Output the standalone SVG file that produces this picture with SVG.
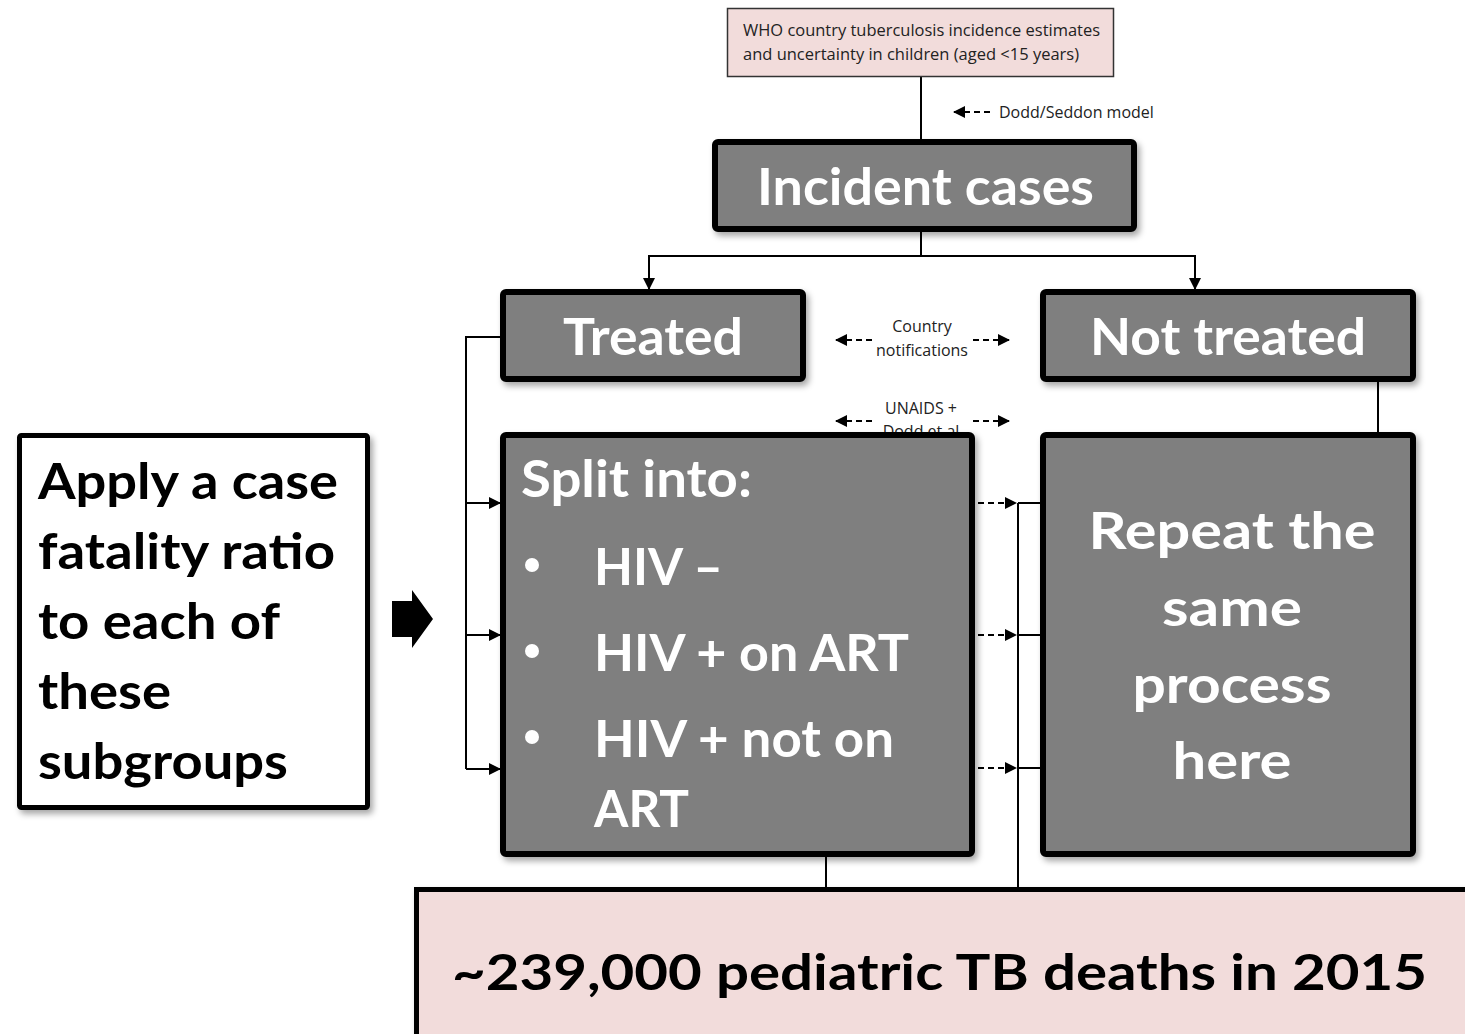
<svg xmlns="http://www.w3.org/2000/svg" width="1465" height="1034" viewBox="0 0 1465 1034">
<style>
.gray{fill:#7f7f7f;stroke:#000;stroke-width:6}
.big{font-family:Lato,"Open Sans",sans-serif;font-weight:bold;fill:#fff;font-size:52px}
.blk{font-family:Lato,"Open Sans",sans-serif;font-weight:bold;fill:#000;font-size:50px}
.sm{font-family:"Open Sans","Noto Sans",sans-serif;fill:#222;font-size:16px}
.ln{stroke:#000;stroke-width:2;fill:none}
.dash{stroke:#000;stroke-width:2;fill:none;stroke-dasharray:6 4}
</style>
<defs>
<filter id="sh" x="-10%" y="-10%" width="130%" height="130%">
<feDropShadow dx="3" dy="4" stdDeviation="3" flood-color="#000" flood-opacity="0.35"/>
</filter>
<marker id="ah" markerWidth="12" markerHeight="12" refX="12" refY="6" orient="auto" markerUnits="userSpaceOnUse">
<path d="M0,0 L12,6 L0,12 z" fill="#000"/>
</marker>
</defs>
<rect width="1465" height="1034" fill="#fff"/>

<g id="connectors">
<line class="ln" x1="921" y1="77" x2="921" y2="142"/>
<line class="ln" x1="921" y1="232" x2="921" y2="256"/>
<polyline class="ln" points="649,290 649,256 1195,256 1195,290" marker-end="url(#ah)"/>
<line class="ln" x1="649" y1="256" x2="649" y2="290" marker-end="url(#ah)"/>
<line class="ln" x1="1378" y1="382" x2="1378" y2="434"/>
<polyline class="ln" points="502,337 466,337 466,769"/>
<line class="ln" x1="466" y1="503" x2="501" y2="503" marker-end="url(#ah)"/>
<line class="ln" x1="466" y1="635" x2="501" y2="635" marker-end="url(#ah)"/>
<line class="ln" x1="466" y1="769" x2="501" y2="769" marker-end="url(#ah)"/>
<line class="ln" x1="1018" y1="503" x2="1018" y2="889"/>
<line class="ln" x1="1018" y1="503" x2="1042" y2="503"/>
<line class="ln" x1="1018" y1="635" x2="1042" y2="635"/>
<line class="ln" x1="1018" y1="768" x2="1042" y2="768"/>
<line class="dash" x1="978" y1="503" x2="1017" y2="503" marker-end="url(#ah)"/>
<line class="dash" x1="978" y1="635" x2="1017" y2="635" marker-end="url(#ah)"/>
<line class="dash" x1="978" y1="768" x2="1017" y2="768" marker-end="url(#ah)"/>
<line class="ln" x1="826" y1="857" x2="826" y2="889"/>
<line class="dash" x1="990" y1="112" x2="953" y2="112" marker-end="url(#ah)"/>
<line class="dash" x1="872" y1="340" x2="835" y2="340" marker-end="url(#ah)"/>
<line class="dash" x1="973" y1="340" x2="1010" y2="340" marker-end="url(#ah)"/>
<line class="dash" x1="872" y1="421" x2="835" y2="421" marker-end="url(#ah)"/>
<line class="dash" x1="973" y1="421" x2="1010" y2="421" marker-end="url(#ah)"/>
</g>

<g id="labels">
<text class="sm" x="999" y="118" font-size="17">Dodd/Seddon model</text>
<text class="sm" x="922" y="332" text-anchor="middle">Country</text>
<text class="sm" x="922" y="356" text-anchor="middle">notifications</text>
<text class="sm" x="921" y="414" text-anchor="middle">UNAIDS +</text>
<text class="sm" x="921" y="437" text-anchor="middle">Dodd et al</text>
</g>

<g id="who">
<rect x="727.5" y="8.5" width="386" height="68" fill="#f2dcdb" stroke="#333" stroke-width="1.5"/>
<text class="sm" x="743" y="36" font-size="17" textLength="357" lengthAdjust="spacingAndGlyphs">WHO country tuberculosis incidence estimates</text>
<text class="sm" x="743" y="60" font-size="17" textLength="336" lengthAdjust="spacingAndGlyphs">and uncertainty in children (aged &lt;15 years)</text>
</g>

<g id="incident" filter="url(#sh)">
<rect class="gray" x="715" y="142" width="419" height="87" rx="3"/>
<text class="big" x="757" y="205" textLength="337" lengthAdjust="spacingAndGlyphs">Incident cases</text>
</g>

<g id="treated" filter="url(#sh)">
<rect class="gray" x="503" y="292" width="300" height="87" rx="3"/>
<text class="big" x="563" y="355" textLength="180" lengthAdjust="spacingAndGlyphs">Treated</text>
</g>

<g id="nottreated" filter="url(#sh)">
<rect class="gray" x="1043" y="292" width="370" height="87" rx="3"/>
<text class="big" x="1090" y="355" textLength="276" lengthAdjust="spacingAndGlyphs">Not treated</text>
</g>

<g id="split" filter="url(#sh)">
<rect class="gray" x="503" y="435" width="469" height="419" rx="3"/>
<text class="big" x="521" y="497" textLength="231" lengthAdjust="spacingAndGlyphs">Split into:</text>
<circle cx="532" cy="565" r="7" fill="#fff"/>
<circle cx="532" cy="651" r="7" fill="#fff"/>
<circle cx="532" cy="737" r="7" fill="#fff"/>
<text class="big" x="594" y="585" textLength="129" lengthAdjust="spacingAndGlyphs">HIV –</text>
<text class="big" x="594" y="671" textLength="315" lengthAdjust="spacingAndGlyphs">HIV + on ART</text>
<text class="big" x="594" y="757" textLength="300" lengthAdjust="spacingAndGlyphs">HIV + not on</text>
<text class="big" x="594" y="827" textLength="95" lengthAdjust="spacingAndGlyphs">ART</text>
</g>

<g id="repeat" filter="url(#sh)">
<rect class="gray" x="1043" y="435" width="370" height="419" rx="3"/>
<text class="big" x="1232" y="549" text-anchor="middle" textLength="287" lengthAdjust="spacingAndGlyphs">Repeat the</text>
<text class="big" x="1232" y="626" text-anchor="middle" textLength="140" lengthAdjust="spacingAndGlyphs">same</text>
<text class="big" x="1232" y="703" text-anchor="middle" textLength="199" lengthAdjust="spacingAndGlyphs">process</text>
<text class="big" x="1232" y="779" text-anchor="middle" textLength="119" lengthAdjust="spacingAndGlyphs">here</text>
</g>

<g id="apply" filter="url(#sh)">
<rect x="19.5" y="435.5" width="348" height="372" fill="#fff" stroke="#000" stroke-width="5" rx="2"/>
<text class="blk" x="38" y="499" textLength="300" lengthAdjust="spacingAndGlyphs">Apply a case</text>
<text class="blk" x="38" y="569" textLength="297" lengthAdjust="spacingAndGlyphs">fatality ratio</text>
<text class="blk" x="38" y="639" textLength="242" lengthAdjust="spacingAndGlyphs">to each of</text>
<text class="blk" x="38" y="709" textLength="133" lengthAdjust="spacingAndGlyphs">these</text>
<text class="blk" x="38" y="779" textLength="250" lengthAdjust="spacingAndGlyphs">subgroups</text>
</g>

<g id="blockarrow">
<path d="M392,601 L412,601 L412,590 L433,619 L412,648 L412,637 L392,637 Z" fill="#000"/>
</g>

<g id="deaths" filter="url(#sh)">
<rect x="416.5" y="889.5" width="1100" height="200" fill="#f2dcdb" stroke="#000" stroke-width="5"/>
<text class="blk" x="452" y="990" font-size="56" textLength="975" lengthAdjust="spacingAndGlyphs">~239,000 pediatric TB deaths in 2015</text>
</g>
</svg>
